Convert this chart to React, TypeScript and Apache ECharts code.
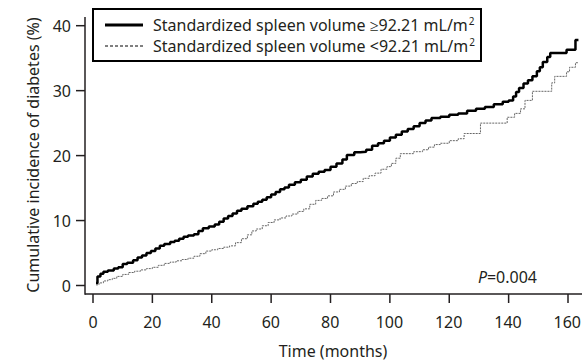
import React, { useEffect, useRef } from "react";
import * as echarts from "echarts";

const xTicks = [0, 20, 40, 60, 80, 100, 120, 140, 160];
const yTicks = [0, 10, 20, 30, 40];

const highTimes = [1, 1.5, 2.5, 3.5, 5, 7, 8.5, 10, 11.5, 13.5, 15, 16.5, 18, 19.5, 21, 22.5, 24, 26, 27.5, 29, 30.5, 32, 34, 35.5, 37, 39, 41, 42.5, 44, 45.5, 47, 48.5, 50, 52, 54, 55.5, 57, 58.5, 60, 61.5, 63, 64.5, 66, 68, 70, 72, 74, 76, 78, 80, 82, 84, 85.5, 88, 90, 92, 94, 96, 98, 100, 102, 104, 106, 108, 110, 112, 114, 117, 120, 123, 126, 129, 132, 135, 138, 140, 141.5, 142.5, 143.5, 145, 146.5, 148, 149.5, 150.5, 151.5, 153, 154, 159.5, 162.5, 163.5];
const highValues = [0.4, 1.4, 1.8, 2.1, 2.3, 2.6, 2.8, 3.3, 3.5, 3.9, 4.3, 4.6, 5.0, 5.3, 5.7, 6.1, 6.4, 6.7, 6.9, 7.2, 7.5, 7.7, 7.9, 8.4, 8.8, 9.1, 9.4, 9.8, 10.3, 10.7, 11.1, 11.5, 11.8, 12.2, 12.6, 12.9, 13.2, 13.6, 14.0, 14.4, 14.8, 15.1, 15.5, 15.9, 16.3, 16.8, 17.2, 17.5, 17.8, 18.3, 18.8, 19.4, 20.1, 20.5, 20.6, 20.9, 21.5, 21.9, 22.3, 22.8, 23.2, 23.7, 24.1, 24.5, 25.0, 25.4, 25.8, 26.0, 26.3, 26.5, 26.9, 27.2, 27.5, 27.9, 28.3, 28.5, 29.1, 29.8, 30.4, 31.1, 31.6, 32.2, 33.0, 33.6, 34.4, 35.2, 35.8, 36.3, 37.8, 37.8];

const lowTimes = [1, 2, 3.5, 5, 6.5, 8, 10, 12, 14, 16, 18, 20, 22, 24, 26, 28, 30, 32, 34, 36, 38, 40, 42, 44, 46, 48, 50, 52, 53.5, 55, 57, 59, 61, 63, 65, 67, 69, 71, 73, 75, 77, 79, 81, 83, 85, 87, 89, 91, 93, 95, 97, 99, 100.5, 102, 103.5, 108, 111, 113, 115, 117, 120, 123, 125, 130.5, 139.5, 142, 144, 145.5, 148, 154.5, 155.5, 159.5, 160.5, 162.5, 163.5];
const lowValues = [0.1, 0.4, 0.7, 0.9, 1.1, 1.4, 1.7, 2.0, 2.2, 2.4, 2.6, 2.8, 3.1, 3.4, 3.6, 3.8, 4.0, 4.2, 4.5, 4.9, 5.3, 5.5, 5.7, 5.9, 6.1, 6.6, 7.2, 7.8, 8.4, 8.7, 9.2, 9.7, 10.1, 10.4, 10.7, 11.0, 11.4, 11.8, 12.5, 13.1, 13.4, 13.8, 14.4, 14.8, 15.3, 15.7, 16.0, 16.5, 16.9, 17.3, 17.9, 18.3, 18.8, 19.6, 20.3, 20.6, 20.9, 21.3, 21.7, 21.9, 22.3, 22.6, 23.4, 25.0, 25.9, 26.5, 27.2, 28.5, 29.9, 31.2, 32.2, 32.9, 33.6, 34.3, 34.3];

const seriesNames = [
  "Standardized spleen volume ≥92.21 mL/m",
  "Standardized spleen volume <92.21 mL/m",
];
const yTitle = "Cumulative incidence of diabetes (%)";
const xTitle = "Time (months)";
const pText = "0.004";

const FONT = "Noto Sans";
const INK = "#231f20";
const FS = 16;
const W = 584;
const H = 363;

// label grid: spans first to last tick
const TG = { left: 93, right: 16, top: 25.7, bottom: 77.5 };
const TX_MIN = 0;
const TX_MAX = 160;
const TY_MIN = 0;
const TY_MAX = 40;
const AXIS_X = 85; // vertical axis line
const AXIS_Y = 294; // horizontal axis line
const TICK_LEN = 9;

export default function App() {
  const ref = useRef<HTMLDivElement>(null);
  useEffect(() => {
    if (!ref.current) return;
    const chart = echarts.init(ref.current, null, { renderer: "svg" });
    const hi = highTimes.map((t, i) => [t, highValues[i]]);
    const lo = lowTimes.map((t, i) => [t, lowValues[i]]);
    const legendText = (name: string) => ({
      text: `{a|${name}}{s|2}`,
      textVerticalAlign: "middle",
      rich: {
        a: { fontSize: FS, fontFamily: FONT, fill: INK, color: INK },
        s: { fontSize: 10, fontFamily: FONT, fill: INK, color: INK, verticalAlign: "top", padding: [0, 0, 8, 1] },
      },
    });
    // same linear mapping as the label grid's value axes
    const gw = W - TG.left - TG.right;
    const gh = H - TG.top - TG.bottom;
    const xPx = (v: number) => TG.left + ((v - TX_MIN) / (TX_MAX - TX_MIN)) * gw;
    const yPx = (v: number) => TG.top + ((TY_MAX - v) / (TY_MAX - TY_MIN)) * gh;
    const tickLines: any[] = [
      ...xTicks.map((v) => ({
        type: "line",
        z: 20,
        shape: { x1: xPx(v), y1: AXIS_Y, x2: xPx(v), y2: AXIS_Y + TICK_LEN },
        style: { stroke: INK, lineWidth: 1.5 },
      })),
      ...yTicks.map((v) => ({
        type: "line",
        z: 20,
        shape: { x1: AXIS_X - TICK_LEN, y1: yPx(v), x2: AXIS_X, y2: yPx(v) },
        style: { stroke: INK, lineWidth: 1.5 },
      })),
    ];
    chart.setOption({
      animation: false,
      backgroundColor: "#fff",
      textStyle: { fontFamily: FONT, color: INK },
      grid: [
        { left: 85, top: 17, right: 2, bottom: 69, containLabel: false },
        { left: TG.left, top: TG.top, right: TG.right, bottom: TG.bottom, containLabel: false },
      ],
      xAxis: [
        { type: "value", gridIndex: 0, min: -2.7, max: 164.7, show: false },
        {
          type: "value",
          gridIndex: 1,
          min: TX_MIN,
          max: TX_MAX,
          interval: 20,
          offset: AXIS_Y - (H - TG.bottom),
          position: "bottom",
          axisLine: { show: false, onZero: false },
          axisTick: { show: false },
          splitLine: { show: false },
          axisLabel: { show: true, margin: 20, fontSize: FS, color: INK, fontFamily: FONT },
        },
      ],
      yAxis: [
        { type: "value", gridIndex: 0, min: -1.31, max: 41.34, show: false },
        {
          type: "value",
          gridIndex: 1,
          min: TY_MIN,
          max: TY_MAX,
          interval: 10,
          offset: TG.left - AXIS_X,
          position: "left",
          axisLine: { show: false, onZero: false },
          axisTick: { show: false },
          splitLine: { show: false },
          axisLabel: { show: true, margin: 14, fontSize: FS, color: INK, fontFamily: FONT },
        },
      ],
      series: [
        {
          name: seriesNames[0],
          type: "line",
          xAxisIndex: 0,
          yAxisIndex: 0,
          step: "end",
          data: hi,
          symbol: "none",
          lineStyle: { color: "#000", width: 2.5 },
        },
        {
          name: seriesNames[1],
          type: "line",
          xAxisIndex: 0,
          yAxisIndex: 0,
          step: "end",
          data: lo,
          symbol: "none",
          lineStyle: { color: "#666", width: 1, type: [2, 1] },
        },
      ],
      graphic: [
        {
          type: "line",
          shape: { x1: AXIS_X, y1: AXIS_Y, x2: 582, y2: AXIS_Y },
          style: { stroke: INK, lineWidth: 1.5 },
        },
        {
          type: "line",
          shape: { x1: AXIS_X, y1: 17, x2: AXIS_X, y2: AXIS_Y + 0.75 },
          style: { stroke: INK, lineWidth: 1.5 },
        },
        ...tickLines,
        {
          type: "rect",
          shape: { x: 93, y: 9, width: 388, height: 52 },
          style: { fill: "#fff", stroke: "#000", lineWidth: 2 },
          z: 10,
        },
        {
          type: "line",
          shape: { x1: 105, y1: 25, x2: 143, y2: 25 },
          style: { stroke: "#000", lineWidth: 3 },
          z: 11,
        },
        {
          type: "line",
          shape: { x1: 105, y1: 46, x2: 143, y2: 46 },
          style: { stroke: "#000", lineWidth: 1, lineDash: [3, 2] },
          z: 11,
        },
        { type: "text", x: 153, y: 25, z: 11, style: legendText(seriesNames[0]) },
        { type: "text", x: 153, y: 46, z: 11, style: legendText(seriesNames[1]) },
        {
          type: "text",
          x: 33,
          y: 155,
          rotation: Math.PI / 2,
          style: {
            text: yTitle,
            fontSize: FS,
            fontFamily: FONT,
            fill: INK,
            textAlign: "center",
            textVerticalAlign: "middle",
          },
        },
        {
          type: "text",
          x: 333,
          y: 351,
          style: {
            text: xTitle,
            fontSize: FS,
            fontFamily: FONT,
            fill: INK,
            textAlign: "center",
            textVerticalAlign: "middle",
          },
        },
        {
          type: "text",
          x: 537,
          y: 277,
          style: {
            text: `{p|P}{a|=${pText}}`,
            textAlign: "right",
            textVerticalAlign: "middle",
            rich: {
              p: { fontSize: FS, fontStyle: "italic", fontFamily: FONT, fill: INK, color: INK },
              a: { fontSize: FS, fontFamily: FONT, fill: INK, color: INK },
            },
          },
        },
      ],
    });
    return () => chart.dispose();
  }, []);
  return (
    <div
      ref={ref}
      style={{ position: "fixed", left: 0, top: 0, width: W, height: H }}
    />
  );
}
